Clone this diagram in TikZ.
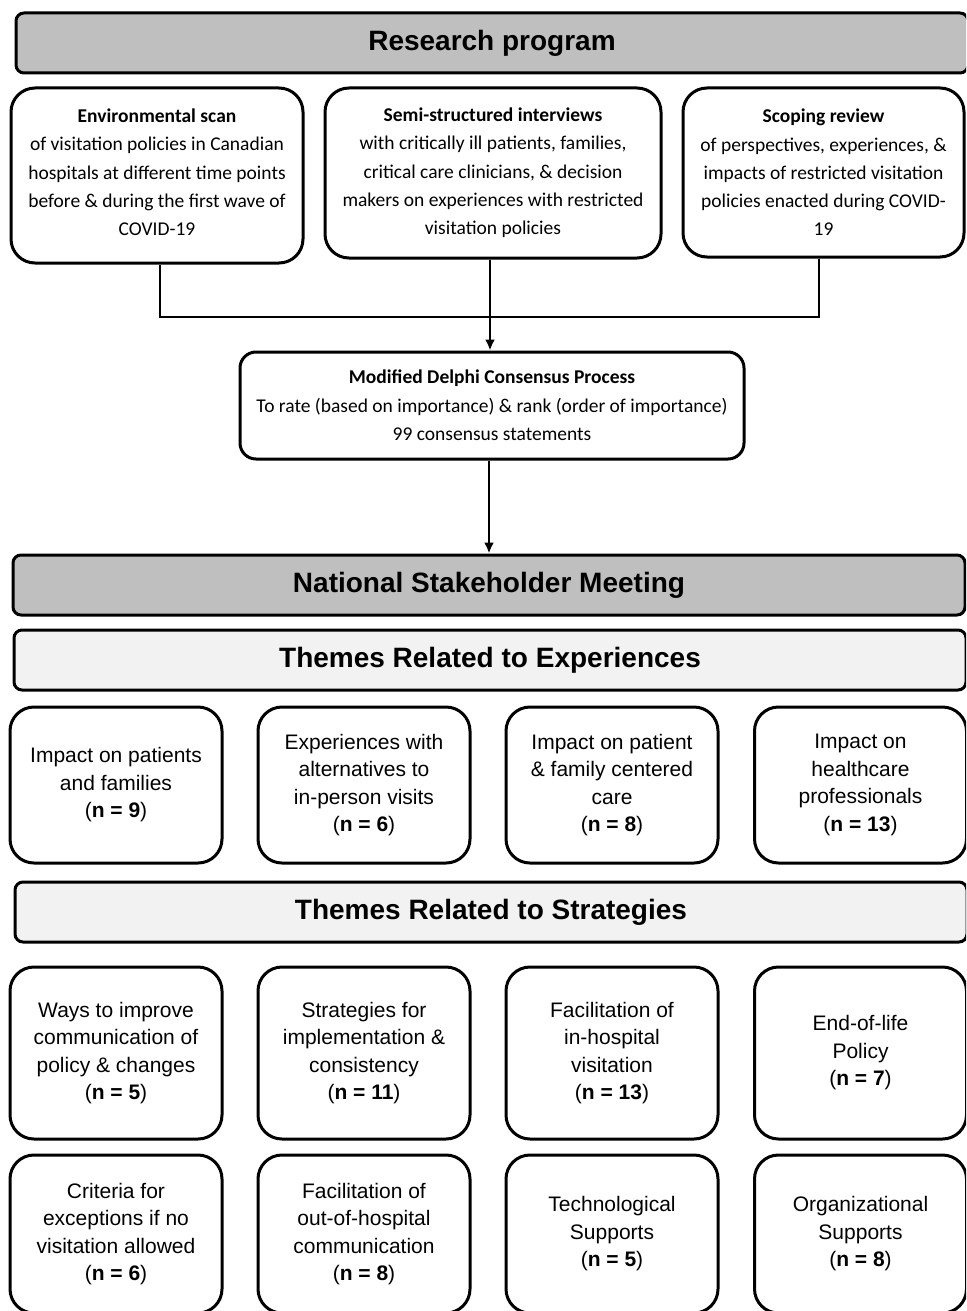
\documentclass[tikz,border=0pt]{standalone}
\usepackage{fontspec}
\setmainfont{Liberation Sans}
\newfontfamily\calib{Carlito}
\usetikzlibrary{arrows.meta}
\newcommand{\nn}[1]{(\textbf{n = #1})}

\begin{document}
\begin{tikzpicture}[x=1pt,y=-1pt,
	head/.style={draw,line width=3pt,rounded corners=8pt,minimum width=952pt,minimum height=60pt,font=\fontsize{28}{30}\selectfont\bfseries},
	src/.style={draw,line width=3pt,rounded corners=24pt,align=center,font=\calib\fontsize{19.5}{28.3}\selectfont},
	theme/.style={draw,line width=3pt,rounded corners=24pt,align=center,minimum width=212pt,font=\fontsize{21}{27.5}\selectfont},
	link/.style={line width=2.5pt},
	tip/.style={-{Latex[length=11pt,width=10pt]}}]
	\useasboundingbox (0,0) rectangle (966,1311);
	\clip (0,0) rectangle (966,1311);
	% research program
	\node[head,fill=black!25] (prog) at (492,43) {Research program};
	\node[src,minimum width=292pt,minimum height=175pt] (scan) at (157,175.5)
	{\textbf{Environmental scan}\\of visitation policies in Canadian\\hospitals at different time points\\before \& during the first wave of\\COVID-19\vspace{6pt}};
	\node[src,minimum width=336pt,minimum height=170pt] (intv) at (493,173)
	{\textbf{Semi-structured interviews}\\with critically ill patients, families,\\critical care clinicians, \& decision\\makers on experiences with restricted\\visitation policies};
	\node[src,minimum width=281pt,minimum height=169pt] (scop) at (823.5,172.5)
	{\textbf{Scoping review}\\of perspectives, experiences, \&\\impacts of restricted visitation\\policies enacted during COVID-\\19};
	\node[src,minimum width=504pt,minimum height=107pt,rounded corners=16pt] (delphi) at (492,405.5)
	{\textbf{Modified Delphi Consensus Process}\\To rate (based on importance) \& rank (order of importance)\\99 consensus statements};
	\coordinate (mid) at (490,317);
	\draw[link] ([xshift=3pt]scan.south) |- (mid) -| ([xshift=-4.5pt]scop.south);
	\draw[link,tip] (intv.south -| mid) -- (delphi.north -| mid);
	% meeting
	\node[head,fill=black!25] (nsm) at (489,585) {National Stakeholder Meeting};
	\draw[link,tip] (delphi.south -| nsm.north) -- (nsm.north);
	% experiences
	\node[head,fill=black!5] (exp) at (490,660) {Themes Related to Experiences};
	\node[theme,minimum height=156pt] (e1) at (116,785) {Impact on patients\\and families\\\nn{9}};
	\node[theme,minimum height=156pt] (e2) at (364,785) {Experiences with\\alternatives to\\in-person visits\\\nn{6}};
	\node[theme,minimum height=156pt] (e3) at (612,785) {Impact on patient\\\& family centered\\care\\\nn{8}};
	\node[theme,minimum height=156pt] (e4) at (860.5,785) {Impact on\\healthcare\\professionals\\\nn{13}};
	% strategies
	\node[head,fill=black!5] (strat) at (491,912) {Themes Related to Strategies};
	\node[theme,minimum height=172pt] (s1) at (116,1053) {Ways to improve\\communication of\\policy \& changes\\\nn{5}};
	\node[theme,minimum height=172pt] (s2) at (364,1053) {Strategies for\\implementation \&\\consistency\\\nn{11}};
	\node[theme,minimum height=172pt] (s3) at (612,1053) {Facilitation of\\in-hospital\\visitation\\\nn{13}};
	\node[theme,minimum height=172pt] (s4) at (860.5,1053) {End-of-life\\Policy\\\nn{7}};
	\node[theme,minimum height=158pt] (s5) at (116,1234) {Criteria for\\exceptions if no\\visitation allowed\\\nn{6}};
	\node[theme,minimum height=158pt] (s6) at (364,1234) {Facilitation of\\out-of-hospital\\communication\\\nn{8}};
	\node[theme,minimum height=158pt] (s7) at (612,1234) {Technological\\Supports\\\nn{5}};
	\node[theme,minimum height=158pt] (s8) at (860.5,1234) {Organizational\\Supports\\\nn{8}};
\end{tikzpicture}
\end{document}
